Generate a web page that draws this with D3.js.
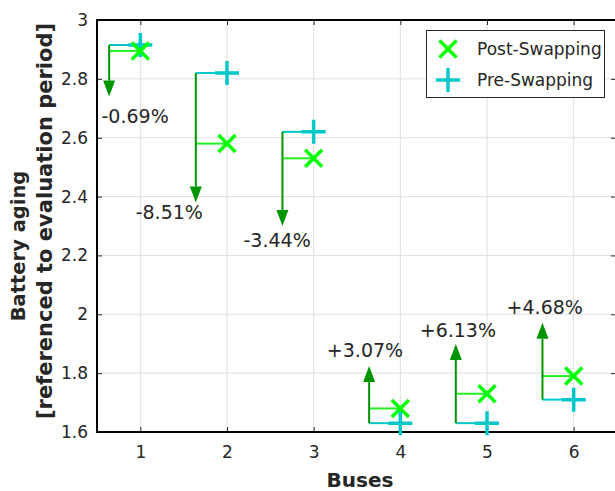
<!DOCTYPE html>
<html><head><meta charset="utf-8">
<script src="https://cdn.jsdelivr.net/npm/d3@7"></script>
<style>body{margin:0;background:#fff}svg{display:block;font-family:"DejaVu Sans",sans-serif}</style>
</head><body><div id="chart"></div>
<script>
const buses = [1, 2, 3, 4, 5, 6];
const preSwapping = [2.915, 2.82, 2.62, 1.63, 1.63, 1.71];
const postSwapping = [2.895, 2.58, 2.53, 1.68, 1.73, 1.79];
const arrowEnds = [2.74, 2.38, 2.30, 1.824, 1.899, 1.971];
const changeLabels = ["-0.69%", "-8.51%", "-3.44%", "+3.07%", "+6.13%", "+4.68%"];
const labelX = [0.94, 1.334, 2.578, 3.592, 4.664, 5.666];
const labelY = [2.65, 2.324, 2.229, 1.855, 1.923, 2.001];
const yTicks = [1.6, 1.8, 2, 2.2, 2.4, 2.6, 2.8, 3];
const xTicks = [1, 2, 3, 4, 5, 6];
const legendNames = ["Post-Swapping", "Pre-Swapping"];

const W = 615, H = 491;
const m = {l: 97, t: 20, r: 617, b: 432};
const x = d3.scaleLinear().domain([0.5, 6.5]).range([m.l, m.r]);
const y = d3.scaleLinear().domain([1.6, 3]).range([m.b, m.t]);
const offset = 0.36;

const svg = d3.select("#chart").append("svg").attr("width", W).attr("height", H);
const textCol = "#262626";
const cPost = "#00ff00", cPre = "#00c8c8", cArrow = "#009400";

// grid
const g = svg.append("g");
g.selectAll(".gx").data(xTicks).join("line")
  .attr("x1", d => x(d)).attr("x2", d => x(d)).attr("y1", m.t).attr("y2", m.b)
  .attr("stroke", "#dfdfdf").attr("stroke-width", 1);
g.selectAll(".gy").data(yTicks).join("line")
  .attr("x1", m.l).attr("x2", m.r).attr("y1", d => y(d)).attr("y2", d => y(d))
  .attr("stroke", "#dfdfdf").attr("stroke-width", 1);

// axes
const xAxis = d3.axisBottom(x).tickValues(xTicks).tickSizeInner(-5).tickSizeOuter(0).tickPadding(14).tickFormat(d3.format("d"));
const yAxis = d3.axisLeft(y).tickValues(yTicks).tickSizeInner(-5).tickSizeOuter(0).tickPadding(9).tickFormat(d => d3.format("")(d));
const gx = svg.append("g").attr("transform", `translate(0,${m.b})`).call(xAxis);
const gy = svg.append("g").attr("transform", `translate(${m.l},0)`).call(yAxis);
[gx, gy].forEach(a => {
  a.select(".domain").remove();
  a.selectAll(".tick line").attr("stroke", textCol).attr("stroke-width", 1);
  a.selectAll(".tick text").attr("fill", textCol).attr("font-size", 17).attr("font-family", "DejaVu Sans");
});
// top / right ticks
const gt = svg.append("g").attr("transform", `translate(0,${m.t})`).call(d3.axisTop(x).tickValues(xTicks).tickSizeInner(-5).tickSizeOuter(0).tickFormat(""));
const gr = svg.append("g").attr("transform", `translate(${m.r},0)`).call(d3.axisRight(y).tickValues(yTicks).tickSizeInner(-6).tickSizeOuter(0).tickFormat(""));
[gt, gr].forEach(a => { a.select(".domain").remove(); a.selectAll(".tick line").attr("stroke", textCol); });

// box
svg.append("path").attr("d", `M${m.l},${m.t}H${m.r}V${m.b}H${m.l}Z`).attr("fill", "none").attr("stroke", "#000").attr("stroke-width", 2);

// data marks
const data = buses.map((b, i) => ({b, pre: preSwapping[i], post: postSwapping[i], end: arrowEnds[i], lab: changeLabels[i], lx: labelX[i], ly: labelY[i]}));
const mk = svg.append("g");
data.forEach(d => {
  const vx = x(d.b - offset);
  mk.append("line").attr("x1", vx).attr("x2", x(d.b)).attr("y1", y(d.pre)).attr("y2", y(d.pre)).attr("stroke", cPre).attr("stroke-width", 2);
  mk.append("line").attr("x1", vx).attr("x2", x(d.b)).attr("y1", y(d.post)).attr("y2", y(d.post)).attr("stroke", "#22ee22").attr("stroke-width", 2);
  const y0 = y(d.pre), y1 = y(d.end);
  const dir = y1 > y0 ? 1 : -1;
  const head = 16;
  mk.append("line").attr("x1", vx).attr("x2", vx).attr("y1", y0).attr("y2", y1 - dir * head).attr("stroke", cArrow).attr("stroke-width", 2);
  mk.append("path").attr("d", `M${vx},${y1}L${vx - 6},${y1 - dir * head}L${vx + 6},${y1 - dir * head}Z`).attr("fill", cArrow);
  mk.append("text").attr("x", x(d.lx)).attr("y", y(d.ly)).attr("text-anchor", "middle").attr("font-size", 19).attr("fill", textCol).text(d.lab);
});
function drawX(sel, cx, cy, s) {
  sel.append("path").attr("d", `M${cx - s},${cy - s}L${cx + s},${cy + s}M${cx - s},${cy + s}L${cx + s},${cy - s}`)
    .attr("stroke", cPost).attr("stroke-width", 3.5).attr("fill", "none");
}
function drawPlus(sel, cx, cy, s) {
  sel.append("path").attr("d", `M${cx - s},${cy}H${cx + s}M${cx},${cy - s}V${cy + s}`)
    .attr("stroke", cPre).attr("stroke-width", 3.5).attr("fill", "none");
}
data.forEach(d => drawPlus(mk, x(d.b), y(d.pre), 12));
data.forEach(d => drawX(mk, x(d.b), y(d.post), 8.5));

// legend
const lg = svg.append("g");
lg.append("rect").attr("x", 426.5).attr("y", 30.5).attr("width", 178).attr("height", 67).attr("fill", "#fff").attr("stroke", "#262626").attr("stroke-width", 1);
drawX(lg, 448, 49, 8.5);
drawPlus(lg, 448, 80, 12);
legendNames.forEach((n, i) => lg.append("text").attr("x", 477).attr("y", 49 + i * 31 + 6).attr("font-size", 17).attr("fill", textCol).text(n));

// axis labels
svg.append("text").attr("x", 360).attr("y", 487).attr("text-anchor", "middle").attr("font-weight", "bold").attr("font-size", 20).attr("fill", textCol).text("Buses");
svg.append("text").attr("transform", "translate(25,246) rotate(-90)").attr("text-anchor", "middle").attr("font-weight", "bold").attr("font-size", 19.5).attr("fill", textCol).text("Battery aging");
svg.append("text").attr("transform", "translate(52,221) rotate(-90)").attr("text-anchor", "middle").attr("font-weight", "bold").attr("font-size", 21).attr("fill", textCol).text("[referenced to evaluation period]");
</script></body></html>
